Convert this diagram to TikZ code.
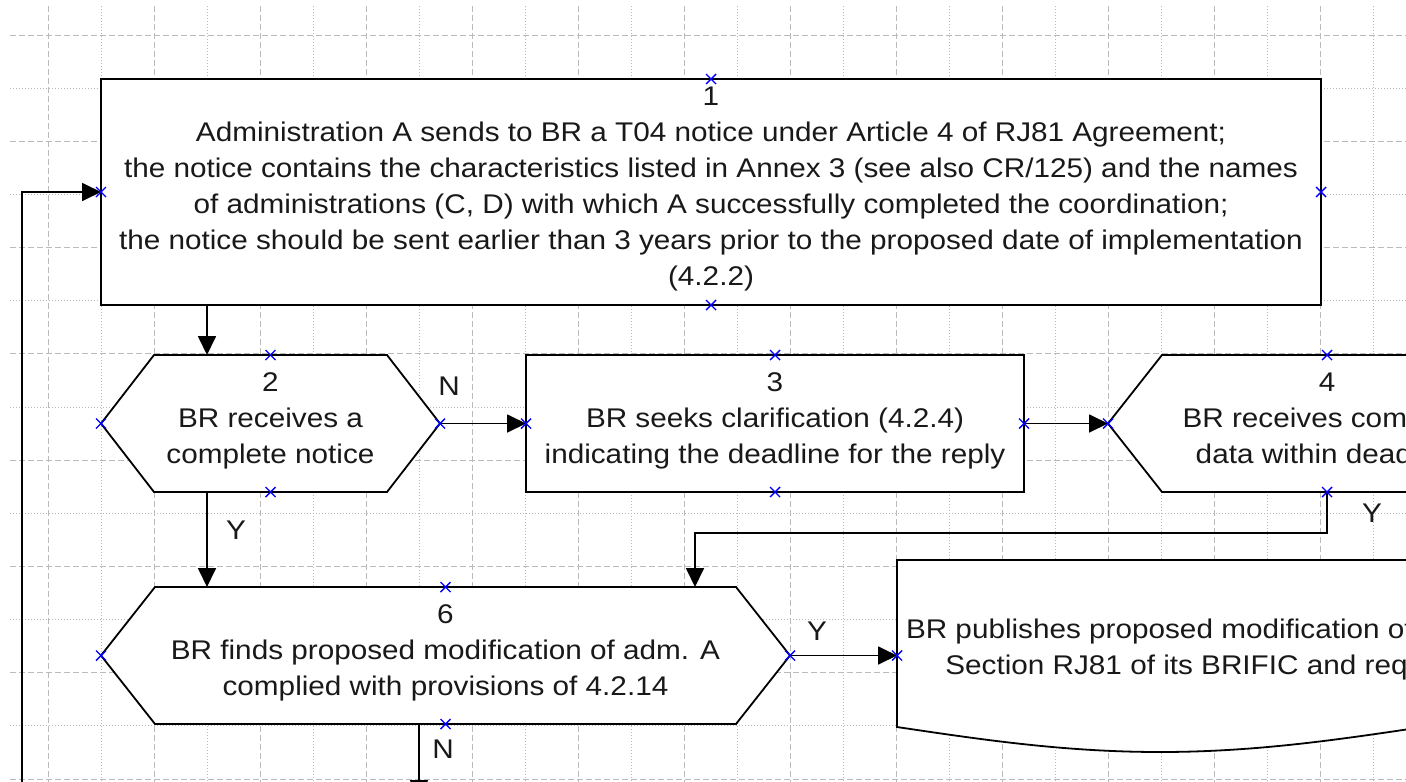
\documentclass[tikz,border=0pt]{standalone}
\usepackage{fontspec}
\setmainfont{Liberation Sans}[FakeStretch=1.1]
\usetikzlibrary{arrows.meta,calc}
\pgfdeclarelayer{gridlayer}
\pgfdeclarelayer{shapelayer}
\pgfsetlayers{gridlayer,shapelayer,main}
\newcommand\hexof[2]{\draw[shapeline] (#1.west) -- ($(#1.north west)+(#2,0)$) -- ($(#1.north east)+(-#2,0)$) -- (#1.east) -- ($(#1.south east)+(-#2,0)$) -- ($(#1.south west)+(#2,0)$) -- cycle;}
\begin{document}
\begin{tikzpicture}[x=1pt,y=-1pt,
  every node/.style={font=\fontsize{27}{36}\selectfont, text=black!90, outer sep=0pt},
  shapeline/.style={draw=black, line width=1.8pt, fill=white},
  box/.style={draw=black, line width=1.8pt, fill=white, inner sep=0pt, align=center,
    execute at begin node=\strut, execute at end node=\strut},
  hexa/.style={inner sep=0pt, align=center,
    execute at begin node=\strut, execute at end node=\strut},
  conn/.style={draw=black, line width=1.8pt, -{Triangle[length=19pt,width=18pt]}},
  lbl/.style={inner sep=0pt, anchor=base},
  gdash/.style={draw=black!27, line width=1pt, dash pattern=on 6pt off 3pt},
  gdot/.style={draw=black!27, line width=1pt, dash pattern=on 1pt off 2pt},
  mk/.pic={\draw[blue, line width=1.4pt] (-5,-5) -- (5,5) (-5,5) -- (5,-5);}
]
\useasboundingbox (0,0) rectangle (1406,782);

% background and grid
\begin{pgfonlayer}{gridlayer}
\fill[white] (0,0) rectangle (1406,782);
\foreach \k in {0,...,12} {
  \draw[gdash] ({48+106.06*\k},6) -- ({48+106.06*\k},782);
  \draw[gdot] ({101.03+106.06*\k},6) -- ({101.03+106.06*\k},782);
}
\foreach \k in {0,...,7} {
  \draw[gdash] (10,{35+106.3*\k}) -- (1406,{35+106.3*\k});
  \draw[gdot] (10,{88.15+106.3*\k}) -- (1406,{88.15+106.3*\k});
}
\end{pgfonlayer}

% nodes
\node[box, minimum width=1220pt, minimum height=226pt] (n1) at (711,192)
  {1\\Administration A sends to BR a T04 notice under Article 4 of RJ81 Agreement;\\the notice contains the characteristics listed in Annex 3 (see also CR/125) and the names\\of administrations (C, D) with which A successfully completed the coordination;\\the notice should be sent earlier than 3 years prior to the proposed date of implementation\\(4.2.2)};

\node[hexa, minimum width=339pt, minimum height=137pt] (n2) at (270.5,423.5)
  {2\\BR receives a\\complete notice};
\node[box, minimum width=498pt, minimum height=137pt] (n3) at (775,423.5)
  {3\\BR seeks clarification (4.2.4)\\indicating the deadline for the reply};
\node[hexa, minimum width=438pt, minimum height=137pt] (n4) at (1327,423.5)
  {4\\BR receives complete\\data within deadline};
\node[hexa, minimum width=689pt, minimum height=137pt] (n6) at (445.5,655.5)
  {6\\BR finds proposed modification of adm. A\\complied with provisions of 4.2.14};

\coordinate (d7) at (897,560);
\node[hexa, anchor=west] (n7) at (906,652)
  {BR publishes proposed modification of adm. A in the Special\\Section RJ81 of its BRIFIC and requests comments on};

\begin{pgfonlayer}{shapelayer}
\hexof{n2}{53}
\hexof{n4}{54}
\hexof{n6}{54}
\draw[shapeline] (d7) -- (897,727) sin (1160,752) cos (1423,727) sin (1686,702) cos (1949,727) -- (1949,560) -- cycle;
\end{pgfonlayer}

% labels
\node[lbl] (l2n) at (449,395) {N};
\node[lbl] (l2y) at (236,539) {Y};
\node[lbl] (l4y) at (1372,522) {Y};
\node[lbl] (l6y) at (817,640) {Y};
\node[lbl] (l6n) at (443,758) {N};

% connectors
\coordinate (nb) at (419,799);
\coordinate (fb) at (22,800);
\draw[conn] ($(n1.south west)+(106,0)$) -- ($(n2.north west)+(106,0)$);
\draw[conn] ($(n2.south west)+(106,0)$) -- ($(n6.north west)+(106,0)$);
\draw[conn] (n2.east) -- (n3.west);
\draw[conn] (n3.east) -- (n4.west);
\draw[conn] (n4.south) -- ++(0,41) -| ($(n6.north west)+(594,0)$);
\draw[conn] (n6.east) -- (n6.east -| d7);
\draw[conn] ($(n6.south west)+(318,0)$) -- (nb);
\draw[conn] (fb) |- (n1.west);

% connection point markers
\foreach \p in {n1.north,n1.south,n1.west,n1.east,
                n2.north,n2.south,n2.west,n2.east,
                n3.north,n3.south,n3.west,n3.east,
                n4.north,n4.south,n4.west,
                n6.north,n6.south,n6.west,n6.east}
  \pic at (\p) {mk};
\pic at (n6.east -| d7) {mk};
\end{tikzpicture}
\end{document}
